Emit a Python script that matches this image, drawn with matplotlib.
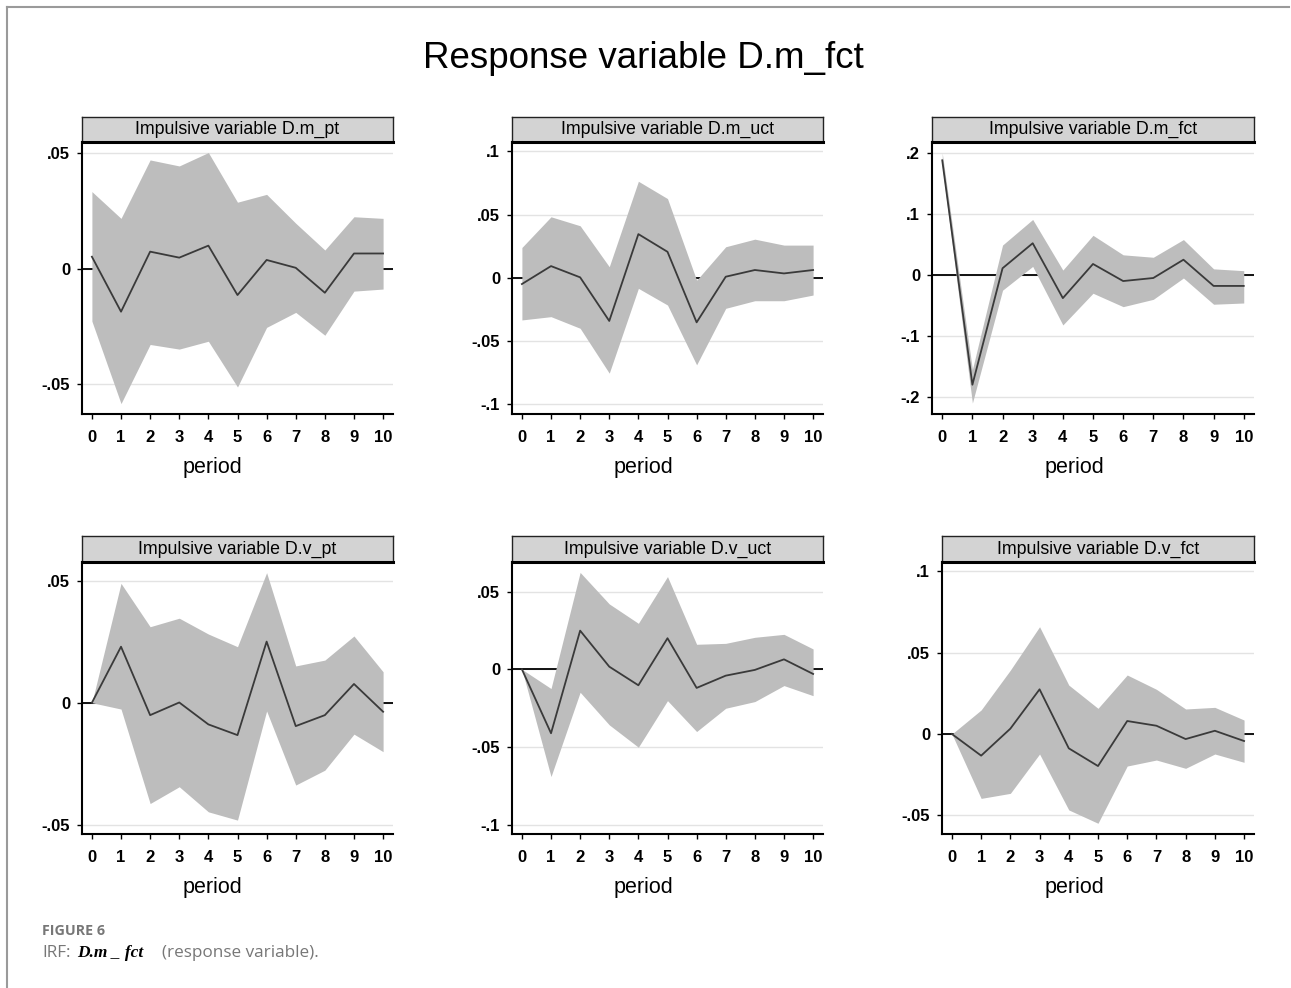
import matplotlib
import matplotlib.pyplot as plt
from matplotlib.lines import Line2D

matplotlib.use('Agg')
plt.rcParams['font.family'] = ['Liberation Sans', 'DejaVu Sans']

W, H = 1291, 988

# periods
periods = list(range(11))

# impulse names (panel order, row by row)
impulses = ["D.m_pt", "D.m_uct", "D.m_fct", "D.v_pt", "D.v_uct", "D.v_fct"]

# IRF estimates and confidence band
irf_m_pt = [0.0052, -0.0186, 0.0074, 0.0048, 0.0100, -0.0114, 0.0038, 0.0004, -0.0104, 0.0066, 0.0066]
up_m_pt = [0.0334, 0.0218, 0.0471, 0.0445, 0.0503, 0.0288, 0.0322, 0.0197, 0.0081, 0.0225, 0.0218]
lo_m_pt = [-0.0227, -0.0584, -0.0328, -0.0348, -0.0314, -0.0512, -0.0254, -0.0189, -0.0288, -0.0097, -0.0088]

irf_m_uct = [-0.0050, 0.0092, 0.0003, -0.0342, 0.0345, 0.0205, -0.0353, 0.0008, 0.0061, 0.0034, 0.0061]
up_m_uct = [0.0239, 0.0482, 0.0411, 0.0087, 0.0763, 0.0626, -0.0020, 0.0245, 0.0305, 0.0258, 0.0258]
lo_m_uct = [-0.0334, -0.0308, -0.0400, -0.0755, -0.0084, -0.0216, -0.0689, -0.0242, -0.0182, -0.0182, -0.0137]

irf_m_fct = [0.188, -0.180, 0.011, 0.052, -0.038, 0.018, -0.010, -0.005, 0.025, -0.018, -0.018]
up_m_fct = [0.200, -0.155, 0.049, 0.091, 0.008, 0.065, 0.033, 0.029, 0.058, 0.010, 0.007]
lo_m_fct = [0.178, -0.210, -0.025, 0.014, -0.082, -0.030, -0.052, -0.040, -0.005, -0.048, -0.046]

irf_v_pt = [0.0, 0.0230, -0.0051, 0.0001, -0.0089, -0.0133, 0.0251, -0.0096, -0.0051, 0.0077, -0.0037]
up_v_pt = [0.0, 0.0490, 0.0312, 0.0347, 0.0282, 0.0230, 0.0534, 0.0151, 0.0175, 0.0274, 0.0127]
lo_v_pt = [0.0, -0.0026, -0.0414, -0.0345, -0.0448, -0.0482, -0.0034, -0.0338, -0.0277, -0.0129, -0.0201]

irf_v_uct = [0.0, -0.0412, 0.0249, 0.0017, -0.0103, 0.0200, -0.0120, -0.0041, -0.0004, 0.0064, -0.0030]
up_v_uct = [0.0, -0.0124, 0.0624, 0.0421, 0.0296, 0.0597, 0.0161, 0.0167, 0.0206, 0.0225, 0.0131]
lo_v_uct = [0.0, -0.0691, -0.0148, -0.0358, -0.0502, -0.0202, -0.0401, -0.0251, -0.0208, -0.0105, -0.0170]

irf_v_fct = [0.0, -0.0133, 0.0033, 0.0275, -0.0088, -0.0197, 0.0080, 0.0051, -0.0031, 0.0020, -0.0043]
up_v_fct = [0.0, 0.0148, 0.0393, 0.0660, 0.0301, 0.0158, 0.0363, 0.0275, 0.0154, 0.0164, 0.0086]
lo_v_fct = [0.0, -0.0396, -0.0365, -0.0123, -0.0467, -0.0549, -0.0197, -0.0160, -0.0211, -0.0123, -0.0174]

irfs = [irf_m_pt, irf_m_uct, irf_m_fct, irf_v_pt, irf_v_uct, irf_v_fct]
uppers = [up_m_pt, up_m_uct, up_m_fct, up_v_pt, up_v_uct, up_v_fct]
lowers = [lo_m_pt, lo_m_uct, lo_m_fct, lo_v_pt, lo_v_uct, lo_v_fct]

# y ticks per panel
yticks = [
    [-0.05, 0, 0.05],
    [-0.1, -0.05, 0, 0.05, 0.1],
    [-0.2, -0.1, 0, 0.1, 0.2],
    [-0.05, 0, 0.05],
    [-0.1, -0.05, 0, 0.05],
    [-0.05, 0, 0.05, 0.1],
]
ytick_labels = [
    ["-.05", "0", ".05"],
    ["-.1", "-.05", "0", ".05", ".1"],
    ["-.2", "-.1", "0", ".1", ".2"],
    ["-.05", "0", ".05"],
    ["-.1", "-.05", "0", ".05"],
    ["-.05", "0", ".05", ".1"],
]
ylims = [
    (-0.0629, 0.0550),
    (-0.1078, 0.1076),
    (-0.2280, 0.2185),
    (-0.0539, 0.0579),
    (-0.1061, 0.0693),
    (-0.0615, 0.1060),
]

# panel boxes in pixels: left, right, strip top, plot top, plot bottom
boxes = [
    (82, 393, 117, 141.7, 414),
    (512, 823, 117, 141.7, 414),
    (932, 1254, 117, 141.7, 414),
    (82, 393, 536, 561.7, 834),
    (512, 823, 536, 561.7, 834),
    (942, 1254, 536, 561.7, 834),
]
period_x = [212, 643, 1074, 212, 643, 1074]


def fx(px):
    return px / W


def fy(py):
    return 1 - py / H


fig = plt.figure(figsize=(W / 100, H / 100), dpi=100)
fig.patch.set_facecolor('white')

band_color = '#bdbdbd'
line_color = '#3a3a3a'

for i in range(6):
    l, r, st, pt, pb = boxes[i]
    ax = fig.add_axes([fx(l), fy(pb), fx(r) - fx(l), fy(pt) - fy(pb)])
    ax.set_facecolor('white')
    for yv in yticks[i]:
        ax.axhline(yv, color='#e3e3e3', lw=1.0, zorder=0)
    ax.axhline(0, color='black', lw=1.3, zorder=1)
    ax.fill_between(periods, lowers[i], uppers[i], color=band_color, lw=0, zorder=2)
    ax.plot(periods, irfs[i], color=line_color, lw=1.3, zorder=3)
    ax.set_xlim(-0.34, 10.34)
    ax.set_ylim(*ylims[i])
    ax.set_xticks(periods)
    ax.set_xticklabels([str(p) for p in periods], fontsize=12, fontweight='bold')
    ax.set_yticks(yticks[i])
    ax.set_yticklabels(ytick_labels[i], fontsize=12, fontweight='bold')
    ax.tick_params(axis='x', length=3.5, width=1, pad=8)
    ax.tick_params(axis='y', length=3.5, width=1, pad=5)
    for s in ['top', 'right']:
        ax.spines[s].set_visible(False)
    for s in ['left', 'bottom']:
        ax.spines[s].set_linewidth(1.5)
        ax.spines[s].set_color('black')

    # strip header
    sax = fig.add_axes([fx(l), fy(pt), fx(r) - fx(l), fy(st) - fy(pt)])
    sax.set_facecolor('#d3d3d3')
    sax.set_xticks([])
    sax.set_yticks([])
    for s in sax.spines.values():
        s.set_linewidth(1.0)
        s.set_color('#222222')
    sax.spines['bottom'].set_linewidth(2.2)
    sax.spines['bottom'].set_color('black')
    sax.text(0.5, 0.48, "Impulsive variable " + impulses[i], ha='center', va='center',
             fontsize=12.8, transform=sax.transAxes)

    py = 467 if i < 3 else 887
    fig.text(fx(period_x[i]), fy(py), "period", ha='center', va='center', fontsize=15.5)

fig.text(fx(643.5), fy(59), "Response variable D.m_fct", ha='center', va='center', fontsize=26.5)

# frame lines at top and left
fig.add_artist(Line2D([fx(7), fx(7)], [fy(7), 0], color='#9a9a9a', lw=1.5))
fig.add_artist(Line2D([fx(7), fx(1289)], [fy(7), fy(7)], color='#9a9a9a', lw=1.5))

# caption
fig.text(fx(42), fy(931), "FIGURE 6", ha='left', va='center', fontsize=10.3,
         fontweight='bold', color='#777777', family=['Open Sans', 'DejaVu Sans'])
fig.text(fx(42), fy(953), "IRF:", ha='left', va='center', fontsize=12.3,
         color='#777777', family=['Open Sans', 'DejaVu Sans'])
fig.text(fx(77), fy(953), "D.m _ fct", ha='left', va='center', fontsize=12.5,
         fontweight='bold', style='italic', color='black',
         family=['Liberation Serif', 'DejaVu Serif'])
fig.text(fx(162), fy(953), "(response variable).", ha='left', va='center', fontsize=12.3,
         color='#777777', family=['Open Sans', 'DejaVu Sans'])

fig.savefig('out.png', dpi=100, facecolor='white')
